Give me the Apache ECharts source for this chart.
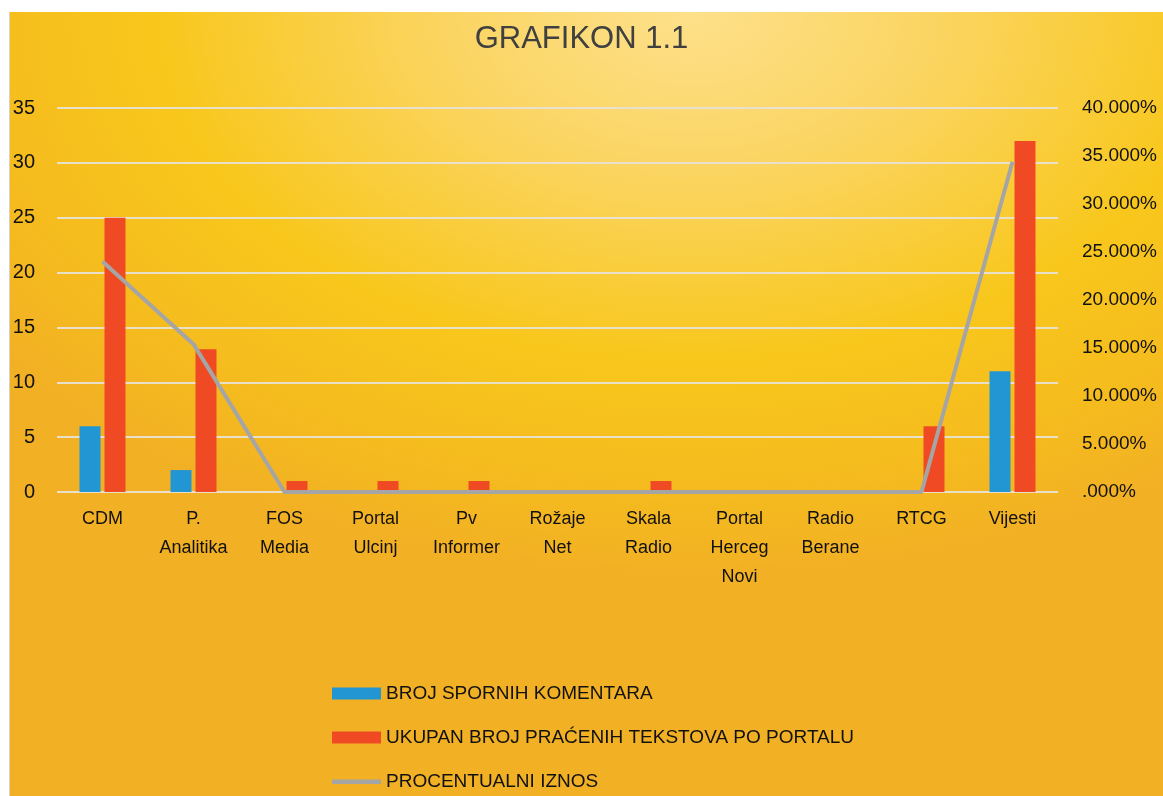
<!DOCTYPE html>
<html>
<head>
<meta charset="utf-8">
<script src="https://cdn.jsdelivr.net/npm/echarts@6/dist/echarts.min.js"></script>
<style>
html,body{margin:0;padding:0;width:1163px;height:796px;background:#fff;overflow:hidden;}
#bg{position:absolute;left:9px;top:12px;width:1154px;height:784px;
background:radial-gradient(ellipse 860px 560px at 680px 0px,#fde08a 0%,#fbd563 28%,#f8c71c 62%,#f5bb1e 85%,#f2b124 100%);
border-left:1px solid #d9d2c0;}
#chart{position:absolute;left:0;top:0;width:1163px;height:796px;}
</style>
</head>
<body>
<div id="bg"></div>
<div id="chart"></div>
<script>
const categories = ['CDM','P. Analitika','FOS Media','Portal Ulcinj','Pv Informer','Rožaje Net','Skala Radio','Portal Herceg Novi','Radio Berane','RTCG','Vijesti'];
const brojSpornih = [6,2,0,0,0,0,0,0,0,0,11];
const ukupanBroj = [25,13,1,1,1,0,1,0,0,6,32];
const procentualni = [0.24,0.154,0,0,0,0,0,0,0,0,0.344];
const leftTicks = {min:0,max:35,interval:5};
const rightTicks = {min:0,max:0.4,interval:0.05};

const chart = echarts.init(document.getElementById('chart'));
const font = 'Liberation Sans';
const lineIcon = 'path://M0,0h0.01v0.01h-0.01zM0,4h49v4.5h-49zM0,12h0.01v0.01h-0.01z';
chart.setOption({
  backgroundColor:'transparent',
  animation:false,
  title:{text:'GRAFIKON 1.1',left:'center',top:19,
    textStyle:{fontFamily:font,fontSize:31,fontWeight:'normal',color:'#404040'}},
  legend:{orient:'vertical',left:332,top:684,height:140,padding:0,itemWidth:49,itemHeight:12,itemGap:25,
    textStyle:{fontFamily:font,fontSize:19,color:'#111'},
    data:[
      {name:'BROJ SPORNIH KOMENTARA',icon:'rect'},
      {name:'UKUPAN BROJ PRAĆENIH TEKSTOVA PO PORTALU',icon:'rect'},
      {name:'PROCENTUALNI IZNOS',icon:lineIcon,itemStyle:{color:'#a5a5a5'}}
    ]},
  grid:{left:57,right:105,top:108,bottom:304},
  xAxis:{type:'category',data:categories,
    axisLine:{show:false},axisTick:{show:false},
    axisLabel:{fontFamily:font,fontSize:18,color:'#111',margin:13,lineHeight:29,interval:0,
      formatter:v=>v.split(' ').join('\n')}},
  yAxis:[
    {type:'value',min:leftTicks.min,max:leftTicks.max,interval:leftTicks.interval,
      axisLine:{show:false},axisTick:{show:false},
      axisLabel:{fontFamily:font,fontSize:20,color:'#111',margin:22},
      splitLine:{lineStyle:{color:'rgba(232,226,212,0.95)',width:2}}},
    {type:'value',min:rightTicks.min,max:rightTicks.max,interval:rightTicks.interval,
      axisLine:{show:false},axisTick:{show:false},splitLine:{show:false},
      axisLabel:{fontFamily:font,fontSize:19,color:'#111',margin:24,
        formatter:v=>{const s=(v*100).toFixed(3)+'%';return s.startsWith('0')?s.slice(1):s;}}}
  ],
  series:[
    {name:'BROJ SPORNIH KOMENTARA',type:'bar',data:brojSpornih,barWidth:21,barGap:'19%',
      itemStyle:{color:'#2196d3'}},
    {name:'UKUPAN BROJ PRAĆENIH TEKSTOVA PO PORTALU',type:'bar',data:ukupanBroj,barWidth:21,
      itemStyle:{color:'#f04a24'}},
    {name:'PROCENTUALNI IZNOS',type:'line',yAxisIndex:1,data:procentualni,symbol:'none',
      lineStyle:{color:'#a5a5a5',width:4},itemStyle:{color:'#a5a5a5'}}
  ]
});
</script>
</body>
</html>
